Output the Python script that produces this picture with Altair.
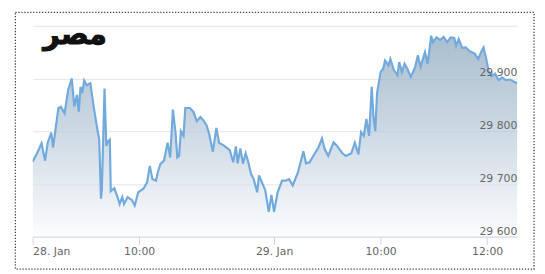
import altair as alt
import pandas as pd

# ordinal trading minutes (gaps between sessions removed)
minute = [0, 5, 10, 14, 17, 21, 23, 26, 29, 32, 36, 40, 44, 47, 50, 52, 54, 56, 58, 61,
          65, 69, 73, 75, 77, 78, 81, 83, 85, 87, 88, 92, 96, 98, 101, 103, 107, 112, 115, 119,
          125, 129, 132, 135, 139, 141, 144, 148, 152, 155, 158, 161, 163, 165, 167, 170, 172, 177, 181, 185,
          189, 193, 196, 199, 203, 207, 210, 216, 222, 226, 229, 231, 234, 237, 240, 243, 246, 249, 253, 255,
          258, 262, 266, 269, 272, 276, 281, 285, 289, 293, 299, 305, 308, 312, 318, 322, 326, 329, 333, 336,
          339, 343, 349, 353, 359, 363, 367, 370, 373, 376, 379, 382, 384, 386, 388, 392, 395, 397, 401, 403,
          407, 411, 413, 416, 419, 422, 426, 431, 434, 437, 442, 445, 449, 451, 455, 459, 463, 467, 471, 475,
          477, 480, 484, 488, 492, 498, 502, 506, 508, 511, 514, 517, 521, 525, 529, 533, 538, 542, 546]
value = [29742, 29758, 29777, 29744, 29778, 29797, 29769, 29806, 29844, 29846,
         29834, 29878, 29900, 29847, 29869, 29837, 29884, 29872, 29896, 29887,
         29891, 29844, 29803, 29784, 29672, 29691, 29881, 29772, 29781, 29784,
         29686, 29692, 29673, 29662, 29675, 29662, 29675, 29669, 29659, 29684,
         29691, 29703, 29734, 29709, 29706, 29722, 29738, 29744, 29778, 29750,
         29841, 29797, 29750, 29753, 29800, 29791, 29844, 29844, 29837, 29819,
         29827, 29819, 29811, 29794, 29761, 29806, 29778, 29772, 29764, 29741,
         29771, 29739, 29767, 29738, 29758, 29741, 29719, 29709, 29684, 29716,
         29704, 29688, 29647, 29679, 29647, 29684, 29706, 29706, 29709, 29697,
         29722, 29762, 29739, 29741, 29758, 29769, 29786, 29766, 29753, 29766,
         29779, 29772, 29758, 29753, 29758, 29778, 29756, 29798, 29791, 29823,
         29791, 29884, 29828, 29800, 29872, 29912, 29919, 29934, 29925, 29937,
         29916, 29906, 29931, 29912, 29928, 29919, 29903, 29922, 29944, 29922,
         29950, 29928, 29981, 29969, 29978, 29973, 29979, 29969, 29978, 29977,
         29962, 29975, 29958, 29959, 29952, 29947, 29937, 29953, 29959, 29937,
         29912, 29904, 29909, 29897, 29902, 29897, 29898, 29894, 29891]

x_ticks = [0, 120, 272, 392, 512]
x_labels = ["28. Jan", "10:00", "29. Jan", "10:00", "12:00"]
y_ticks = [29600, 29700, 29800, 29900, 30000]
y_labels = ["29 600", "29 700", "29 800", "29 900", ""]
title_text = "مصر"

df = pd.DataFrame({"m": minute, "v": value})
ylab = pd.DataFrame({"v": y_ticks, "lab": y_labels})

label_map = "{" + ",".join(f"'{t}':'{l}'" for t, l in zip(x_ticks, x_labels)) + "}"

W, H = 492, 214

xs = alt.Scale(domain=[0, 546], nice=False)
ys = alt.Scale(domain=[29600, 30000], nice=False, zero=False)

gradient = alt.Gradient(
    gradient="linear", x1=0, y1=0, x2=0, y2=1,
    stops=[alt.GradientStop(offset=0, color="#84a2ba"),
           alt.GradientStop(offset=0.5, color="#bacbda"),
           alt.GradientStop(offset=1, color="#fbfcfd")],
)

area = alt.Chart(df).mark_area(
    color=gradient,
    line={"color": "#72aade", "strokeWidth": 2.2},
    clip=True,
).encode(
    x=alt.X("m:Q", scale=xs,
            axis=alt.Axis(values=x_ticks, labelExpr=f"{label_map}[datum.value]",
                          title=None, grid=False, domainColor="#ccd6eb",
                          tickColor="#ccd6eb", tickSize=8, labelFlush=True,
                          labelColor="#666666", labelFont="DejaVu Sans",
                          labelFontSize=11, labelPadding=1)),
    y=alt.Y("v:Q", scale=ys,
            axis=alt.Axis(values=y_ticks, title=None, labels=False, ticks=False,
                          domain=False, grid=True, gridColor="#e6e6e6")),
    y2=alt.datum(29600),
)

ytext = alt.Chart(ylab).mark_text(
    align="right", baseline="alphabetic", dy=-2, font="DejaVu Sans",
    fontSize=11, color="#666666",
).encode(
    x=alt.value(W),
    y=alt.Y("v:Q", scale=ys),
    text="lab:N",
)

title = alt.Chart(pd.DataFrame({"t": [title_text]})).mark_text(
    align="center", baseline="alphabetic", font="DejaVu Sans", fontWeight="bold",
    fontSize=29, color="#111111", stroke="#111111", strokeWidth=1.2,
).encode(x=alt.value(43), y=alt.value(19), text="t:N")

border = alt.Chart(pd.DataFrame({"a": [0]})).mark_rect(
    fill=None, stroke="#444444", strokeWidth=1.3, strokeDash=[1.3, 1.7],
).encode(x=alt.value(-17.5), x2=alt.value(509), y=alt.value(-13.5), y2=alt.value(247))

chart = alt.layer(area, ytext, title, border).properties(
    width=W, height=H,
    autosize=alt.AutoSizeParams(type="none"),
    padding={"left": 25, "top": 16, "right": 20, "bottom": 36},
    background="white",
).configure_view(stroke=None)

chart.save("out.html", embed_options={"renderer": "svg", "actions": False})
